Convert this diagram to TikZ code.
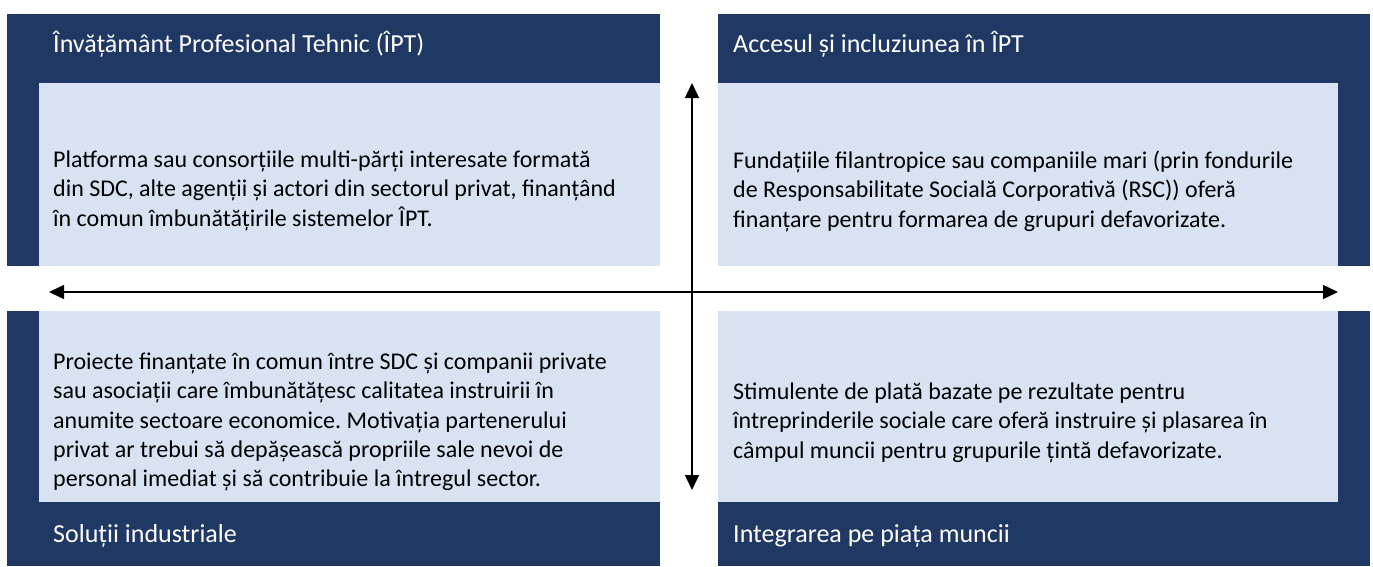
\documentclass[tikz,border=0pt]{standalone}
\usepackage{fontspec}
\setmainfont{Carlito}
\usetikzlibrary{arrows.meta}
\definecolor{navy}{HTML}{203864}
\definecolor{pale}{HTML}{D9E2F3}
\frenchspacing
\begin{document}
\begin{tikzpicture}[x=1pt,y=-1pt,
  title/.style={anchor=base west,inner sep=0pt,text=white,font=\fontsize{26}{31}\selectfont},
  body/.style={anchor=base west,inner sep=0pt,text=black,font=\fontsize{24}{29.3}\selectfont,
    execute at begin node={\begin{minipage}[t]{620pt}\raggedright\frenchspacing},
    execute at end node={\end{minipage}}},
  arr/.style={line width=1.5pt,{Triangle[length=15pt,width=14pt]}-{Triangle[length=15pt,width=14pt]}},
  arrone/.style={line width=1.5pt,-{Triangle[length=15pt,width=14pt]}}]
\useasboundingbox (0,0) rectangle (1373,566);
% panels
\fill[navy] (7,14) rectangle (660,266);
\fill[pale] (39,83) rectangle (660,266);
\fill[navy] (718,14) rectangle (1370,266);
\fill[pale] (718,83) rectangle (1338,266);
\fill[navy] (7,311) rectangle (660,566);
\fill[pale] (39,311) rectangle (660,502);
\fill[navy] (718,311) rectangle (1370,566);
\fill[pale] (718,311) rectangle (1338,502);
% titles
\node[title] (t1) at (53,52) {Învățământ Profesional Tehnic (ÎPT)};
\node[title] (t2) at (733,52) {Accesul și incluziunea în ÎPT};
\node[title] (t3) at (53,542) {Soluții industriale};
\node[title] (t4) at (733,542) {Integrarea pe piața muncii};
% bodies
\node[body] (b1) at (53,151) {Platforma sau consorțiile multi-părți interesate formată\\din SDC, alte agenții și actori din sectorul privat, finanțând\\în comun îmbunătățirile sistemelor ÎPT.};
\node[body] (b2) at (733,151) {Fundațiile filantropice sau companiile mari (prin fondurile\\de Responsabilitate Socială Corporativă (RSC)) oferă\\finanțare pentru formarea de grupuri defavorizate.};
\node[body] (b3) at (53,353) {Proiecte finanțate în comun între SDC și companii private\\sau asociații care îmbunătățesc calitatea instruirii în\\anumite sectoare economice. Motivația partenerului\\privat ar trebui să depășească propriile sale nevoi de\\personal imediat și să contribuie la întregul sector.};
\node[body] (b4) at (733,383) {Stimulente de plată bazate pe rezultate pentru\\întreprinderile sociale care oferă instruire și plasarea în\\câmpul muncii pentru grupurile țintă defavorizate.};
% arrows
\coordinate (hl) at (49,292);
\coordinate (hr) at (1338,292);
\coordinate (vt) at (692,83);
\coordinate (vc) at (692,292);
\coordinate (vb) at (692,490);
\draw[arr] (hl) -- (hr);
\draw[arrone] (vc) -- (vt);
\draw[arrone] (vc) -- (vb);
\end{tikzpicture}
\end{document}
